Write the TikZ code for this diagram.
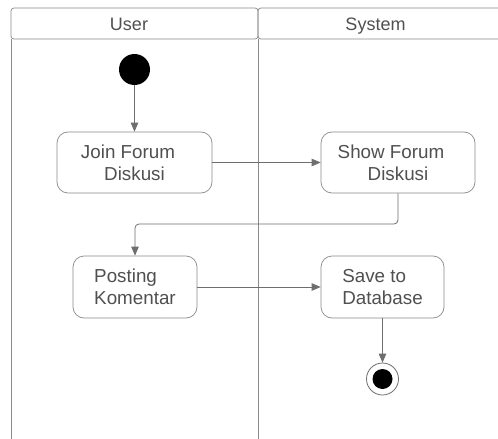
\documentclass[tikz,border=0pt]{standalone}
\usepackage{fontspec}
\setmainfont{Liberation Sans}
\usetikzlibrary{arrows.meta}
\definecolor{linec}{HTML}{6E6E6E}
\definecolor{boxc}{HTML}{8A8A8A}
\definecolor{textc}{HTML}{505050}
\tikzset{
  lanehdr/.style={draw=boxc, line width=0.7pt, rounded corners=3pt},
  laneline/.style={draw=boxc, line width=0.9pt},
  actbox/.style={draw=boxc, line width=0.7pt, rounded corners=11pt, fill=white,
    font=\fontsize{18.8}{22}\selectfont, text=textc, inner sep=0pt},
  flow/.style={draw=linec, line width=0.8pt, -{Triangle[length=9pt,width=7.5pt]}},
  hdrtext/.style={font=\fontsize{18}{21}\selectfont, text=textc, anchor=base, inner sep=0pt},
}
\begin{document}
\begin{tikzpicture}[x=1pt,y=-1pt]
\useasboundingbox (0,0) rectangle (498,439);
\clip (0,0) rectangle (498,439);
\fill[white] (0,0) rectangle (498,439);
% swimlanes
\draw[lanehdr] (11,8) rectangle (258,39);
\draw[lanehdr] (258,8) rectangle (510,39);
\draw[laneline] (11,39) -- (11,445);
\draw[laneline] (258,39) -- (258,445);
\node[hdrtext] (huser) at (129,30) {User};
\node[hdrtext] (hsys) at (375.5,30) {System};
% start
\node[circle, fill=black, minimum size=31pt, inner sep=0pt] (start) at (134.5,69.5) {};
% activities
\node[actbox, minimum width=155pt, minimum height=61pt, align=center] (join) at (134.5,162.5) {Join Forum\hspace*{13pt}\\Diskusi};
\node[actbox, minimum width=154pt, minimum height=61pt, align=center] (show) at (398,162.5) {Show Forum\hspace*{14pt}\\Diskusi};
\node[actbox, minimum width=124pt, minimum height=62pt, align=left] (post) at (135,287) {Posting\\Komentar};
\node[actbox, minimum width=123pt, minimum height=62pt, align=left] (save) at (382.5,287) {Save to\\Database};
% end
\node[circle, draw=linec, line width=0.8pt, fill=white, minimum size=32pt, inner sep=0pt] (endo) at (382.5,379) {};
\node[circle, fill=black, minimum size=20pt, inner sep=0pt] (endi) at (endo.center) {};
% flows
\draw[flow] (start) -- (join);
\draw[flow] (join.east) -- (show.west);
\draw[flow, rounded corners=4pt] (show.south) -- (398,224) -- (135,224) -- (post.north);
\draw[flow] (post.east) -- (save.west);
\draw[flow] (save.south) -- (endo.north);
\end{tikzpicture}
\end{document}
